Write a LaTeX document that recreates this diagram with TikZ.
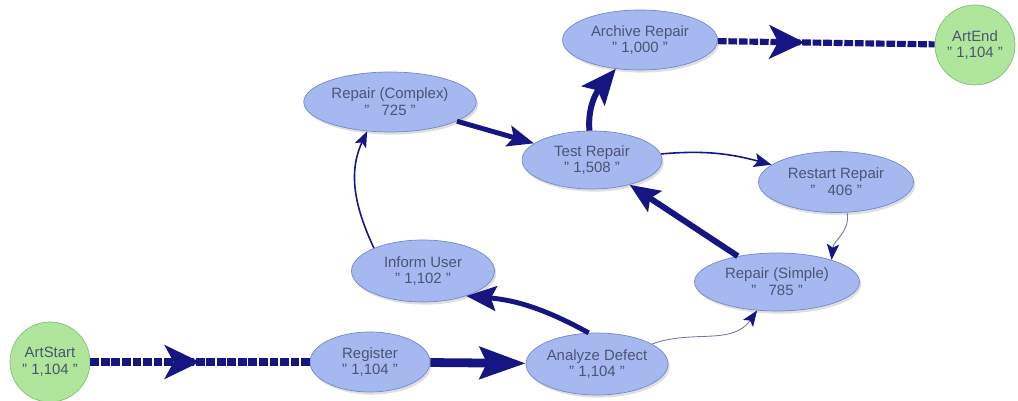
\documentclass[tikz,border=0pt]{standalone}
\usepackage{fontspec}
\setmainfont{Liberation Sans}
\usetikzlibrary{shapes.geometric,arrows.meta,decorations.markings,shadows}
\definecolor{actfill}{RGB}{165,185,240}
\definecolor{actline}{RGB}{115,135,205}
\definecolor{acttext}{RGB}{75,85,115}
\definecolor{termfill}{RGB}{175,230,155}
\definecolor{termline}{RGB}{130,190,120}
\definecolor{flowc}{RGB}{22,22,130}
\definecolor{faintc}{RGB}{120,120,160}

\begin{document}
\begin{tikzpicture}[x=0.02cm,y=0.02cm,
  act/.style={ellipse,draw=actline,fill=actfill,inner sep=0pt,align=center,text=acttext,
    font=\fontsize{8.5}{9.5}\selectfont,drop shadow={opacity=0.25,shadow xshift=1pt,shadow yshift=-1.5pt}},
  term/.style={circle,draw=termline,fill=termfill,inner sep=0pt,minimum size=1.6cm,align=center,
    text=acttext,font=\fontsize{8.5}{9.5}\selectfont},
  flow/.style={draw=flowc,line width=#1},
  chain/.style={draw=flowc,line width=#1,dash pattern=on 5pt off 1pt},
  midarrow/.style={postaction={decorate},decoration={markings,
    mark=at position #1 with {\arrow{Stealth[length=20pt,width=19pt,inset=5pt,flowc]}}}}]
\useasboundingbox (0,0) rectangle (1018,401);
% activities
\node[term] (start) at (50,39) {ArtStart\\" 1,104 "};
\node[act,minimum width=2.4cm,minimum height=1.2cm] (reg) at (370,39) {Register\\" 1,104 "};
\node[act,minimum width=2.64cm,minimum height=1.24cm] (analyze) at (597,37) {Analyze Defect\\" 1,104 "};
\node[act,minimum width=2.86cm,minimum height=1.24cm] (inform) at (423,130) {Inform User\\" 1,102 "};
\node[act,minimum width=3.45cm,minimum height=1.2cm] (complex) at (390,299) {Repair (Complex)\\"~~~725~"};
\node[act,minimum width=2.8cm,minimum height=1.16cm] (test) at (592,241) {Test Repair\\" 1,508 "};
\node[act,minimum width=3.1cm,minimum height=1.2cm] (archive) at (640,361) {Archive Repair\\" 1,000 "};
\node[term] (endn) at (975,356) {ArtEnd\\" 1,104 "};
\node[act,minimum width=3.1cm,minimum height=1.22cm] (restart) at (836,219) {Restart Repair\\"~~~406~"};
\node[act,minimum width=3.3cm,minimum height=1.16cm] (simple) at (777,119) {Repair (Simple)\\"~~~785~"};
% flows
\draw[chain=4pt,midarrow=0.5] (start) -- (reg);
\draw[flow=5pt,-{Stealth[length=26pt,width=18pt,inset=4pt]}] (reg) -- (analyze);
\draw[flow=2.8pt,-{Stealth[length=17pt,width=14pt,inset=3pt]}] (analyze.105) to[bend right=12] (inform.-30);
\draw[flow=0.9pt,-{Stealth[length=9pt,width=7pt,inset=2pt]}] (inform.155) to[out=115,in=-115] (complex.-128);
\draw[flow=2.8pt,-{Stealth[length=15pt,width=12pt,inset=3pt]}] (complex) -- (test);
\draw[flow=3.4pt,-{Stealth[length=20pt,width=17pt,inset=4pt]}] (test) to[out=95,in=-130] (archive);
\draw[chain=3.5pt,midarrow=0.4] (archive) -- (endn);
\draw[flow=0.9pt,-{Stealth[length=10pt,width=8pt,inset=2pt]}] (test) to[out=5,in=165] (restart);
\draw[draw=faintc,line width=0.5pt,-{Stealth[length=9pt,width=7pt,inset=2pt,flowc]}] (restart.-70) to[out=-80,in=85] (simple.22);
\draw[flow=3.4pt,-{Stealth[length=17pt,width=14pt,inset=3pt]}] (simple) -- (test);
\draw[draw=faintc,line width=0.5pt,-{Stealth[length=9pt,width=7pt,inset=2pt,flowc]}] (analyze) to[out=20,in=-125] (simple);
\end{tikzpicture}
\end{document}
